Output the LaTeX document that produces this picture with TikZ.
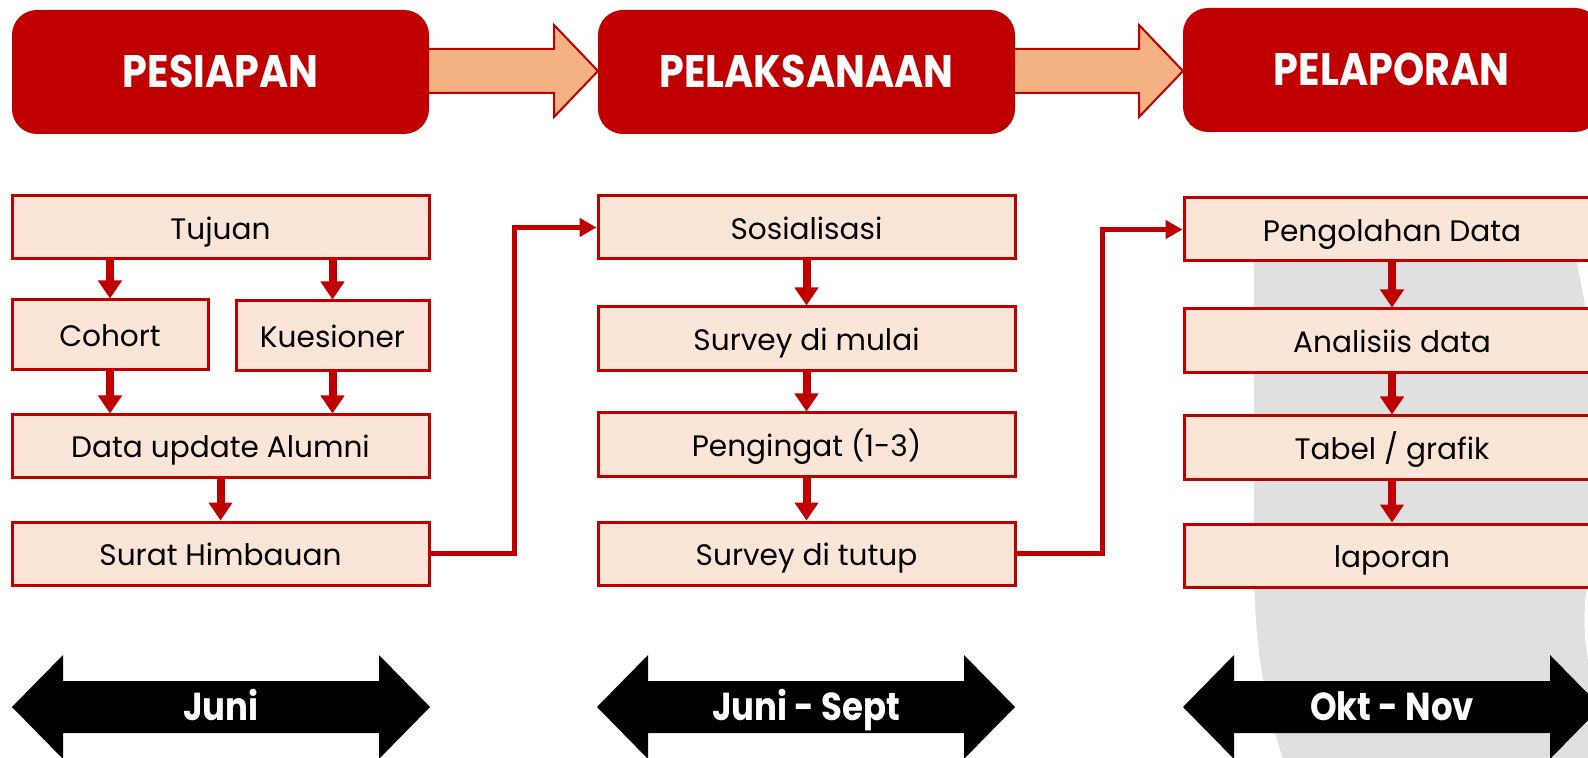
\documentclass[tikz,border=0pt]{standalone}
\usepackage{fontspec}
\setmainfont{Poppins}
\newfontfamily\headfont{Poppins}[FakeStretch=0.87]
\usetikzlibrary{arrows.meta}
\definecolor{dred}{HTML}{C00000}
\definecolor{boxfill}{HTML}{FBE5D6}
\definecolor{arrfill}{HTML}{F4B183}
\definecolor{wgrey}{HTML}{E0E0E0}
\tikzset{
  headbox/.style={rounded corners=12.5pt, fill=dred, text=white, minimum width=208.5pt,
    minimum height=62pt, inner sep=0pt, text height=16pt, text depth=0pt,
    font=\headfont\bfseries\fontsize{22.8pt}{26pt}\selectfont},
  stepbox/.style={fill=boxfill, draw=dred, line width=1.5pt, inner sep=0pt,
    minimum width=208.5pt, minimum height=31.5pt, text=black, text height=12pt, text depth=0pt,
    font=\fontsize{14.8pt}{18pt}\selectfont},
  flow/.style={draw=dred, line width=4pt, -{Triangle[width=11.5pt,length=9pt]}},
  link/.style={draw=dred, line width=2.5pt, -{Triangle[width=9pt,length=8.5pt]}},
  bigarrow/.style={fill=arrfill, draw=dred, line width=1pt},
  period/.style={fill=black},
  periodtext/.style={text=white, inner sep=0pt, text height=13.7pt, text depth=0pt,
    font=\headfont\bfseries\fontsize{19.5pt}{23pt}\selectfont}
}
\begin{document}
\begin{tikzpicture}[x=0.5pt,y=-0.5pt]
\useasboundingbox (0,0) rectangle (1588,758);
% grey watermark shape
\fill[wgrey] (1254,260) .. controls (1254,222) and (1275,205) .. (1320,204) -- (1490,200)
  .. controls (1540,200) and (1570,228) .. (1578,268) .. controls (1584,300) and (1588,320) .. (1592,340)
  -- (1592,560) .. controls (1582,600) and (1582,640) .. (1592,680) -- (1592,762) -- (1284,762)
  .. controls (1263,700) and (1254,640) .. (1254,560) -- cycle;
% block arrows between phases
\draw[bigarrow] (420,49) -- (554,49) -- (554,25) -- (598,71) -- (554,117) -- (554,93) -- (420,93) -- cycle;
\draw[bigarrow] (1006,49) -- (1139,49) -- (1139,25) -- (1183,71) -- (1139,117) -- (1139,93) -- (1006,93) -- cycle;
% phase headers
\node[headbox] (h1) at (220.5,72) {PESIAPAN};
\node[headbox] (h2) at (806.5,72) {PELAKSANAAN};
\node[headbox] (h3) at (1391.5,70) {PELAPORAN};
% left column
\node[stepbox] (tuj) at (220.5,227.5) {Tujuan};
\node[stepbox, minimum width=98pt, minimum height=35pt] (coh) at (110,335) {Cohort};
\node[stepbox, minimum width=96.5pt, minimum height=35pt] (kue) at (332.5,336) {Kuesioner};
\node[stepbox, minimum height=31pt] (dua) at (220.5,446) {Data update Alumni};
\node[stepbox] (sur) at (220.5,553.5) {Surat Himbauan};
% middle column
\node[stepbox] (sos) at (806.5,227.5) {Sosialisasi};
\node[stepbox, minimum height=32pt] (smu) at (806.5,339) {Survey di mulai};
\node[stepbox] (pen) at (806.5,444.5) {Pengingat (1-3)};
\node[stepbox] (stu) at (806.5,553.5) {Survey di tutup};
% right column
\node[stepbox, minimum width=208pt] (pdt) at (1392,229.5) {Pengolahan Data};
\node[stepbox, minimum width=208pt, minimum height=32pt] (ana) at (1392,341) {Analisiis data};
\node[stepbox, minimum width=208pt] (tab) at (1392,447.5) {Tabel / grafik};
\node[stepbox, minimum width=208pt] (lap) at (1392,555.5) {laporan};
% small flow arrows
\draw[flow] (coh |- tuj.south) -- (coh.north);
\draw[flow] (kue |- tuj.south) -- (kue.north);
\draw[flow] (coh.south) -- (coh |- dua.north);
\draw[flow] (kue.south) -- (kue |- dua.north);
\draw[flow] (dua.south) -- (sur.north);
\draw[flow] (sos.south) -- (smu.north);
\draw[flow] (smu.south) -- (pen.north);
\draw[flow] (pen.south) -- (stu.north);
\draw[flow] (pdt.south) -- (ana.north);
\draw[flow] (ana.south) -- (tab.north);
\draw[flow] (tab.south) -- (lap.north);
% connectors between phases
\draw[link] (sur.east) -- ++(84,0) |- (sos.west);
\draw[link] (stu.east) -- ++(86,0) |- (pdt.west);
% period double arrows
\fill[period] (12,707) -- (63,655) -- (63,681) -- (379,681) -- (379,655) -- (430,707)
  -- (379,759) -- (379,733) -- (63,733) -- (63,759) -- cycle;
\node[periodtext] (p1) at (221,707) {Juni};
\fill[period] (597,707) -- (648,655) -- (648,681) -- (964,681) -- (964,655) -- (1015,707)
  -- (964,759) -- (964,733) -- (648,733) -- (648,759) -- cycle;
\node[periodtext] (p2) at (806,707) {Juni - Sept};
\fill[period] (1183,707) -- (1234,655) -- (1234,681) -- (1550,681) -- (1550,655) -- (1601,707)
  -- (1550,759) -- (1550,733) -- (1234,733) -- (1234,759) -- cycle;
\node[periodtext] (p3) at (1392,707) {Okt - Nov};
\end{tikzpicture}
\end{document}
